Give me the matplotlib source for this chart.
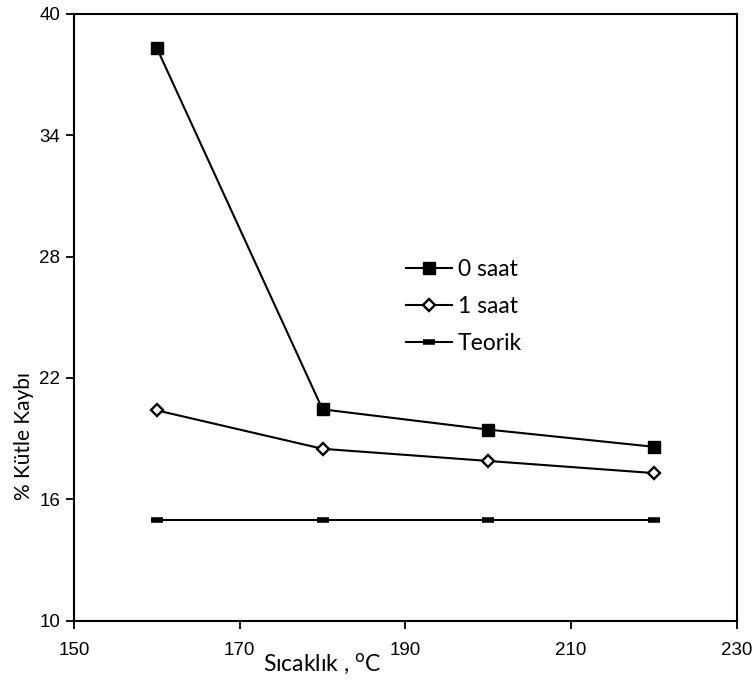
import matplotlib.pyplot as plt

plt.rcParams['font.family'] = ['Liberation Sans', 'DejaVu Sans']

# data
temps = [160, 180, 200, 220]
loss_0h = [38.3, 20.45, 19.45, 18.6]
loss_1h = [20.4, 18.5, 17.9, 17.3]
loss_theory = [15.0, 15.0, 15.0, 15.0]

x_ticks = [150, 170, 190, 210, 230]
y_ticks = [10, 16, 22, 28, 34, 40]

fig = plt.figure(figsize=(7.55, 6.86), dpi=100)
ax = fig.add_axes([0.098, 0.095, 0.878, 0.885])

ax.plot(temps, loss_0h, color='black', lw=1.5, marker='s', ms=8.5,
        mfc='black', mec='black', label='0 saat')
ax.plot(temps, loss_1h, color='black', lw=1.5, marker='D', ms=6,
        mfc='white', mec='black', mew=1.7, label='1 saat')
ax.plot(temps, loss_theory, color='black', lw=1.5, marker='_', ms=9,
        mew=4, label='Teorik')

ax.set_xlim(150, 230)
ax.set_ylim(10, 40)
ax.set_xticks(x_ticks)
ax.set_yticks(y_ticks)
ax.tick_params(direction='out', length=6, width=1.3, labelsize=13.5, pad=4)
ax.tick_params(axis='x', pad=9)
for sp in ax.spines.values():
    sp.set_linewidth(1.5)

ax.set_xlabel('Sıcaklık , $^{\\mathrm{o}}$C', family='Lato', fontsize=16.5)
ax.xaxis.set_label_coords(0.375, -0.05)
ax.set_ylabel('% Kütle Kaybı', family='Lato', fontsize=15)
ax.yaxis.set_label_coords(-0.06, 0.305)

leg = ax.legend(loc='upper left', bbox_to_anchor=(0.47, 0.63), frameon=False,
                prop={'family': 'Lato', 'size': 16.5}, handlelength=2.0,
                labelspacing=0.7, handletextpad=0.25)

fig.savefig('out.png', dpi=100)
